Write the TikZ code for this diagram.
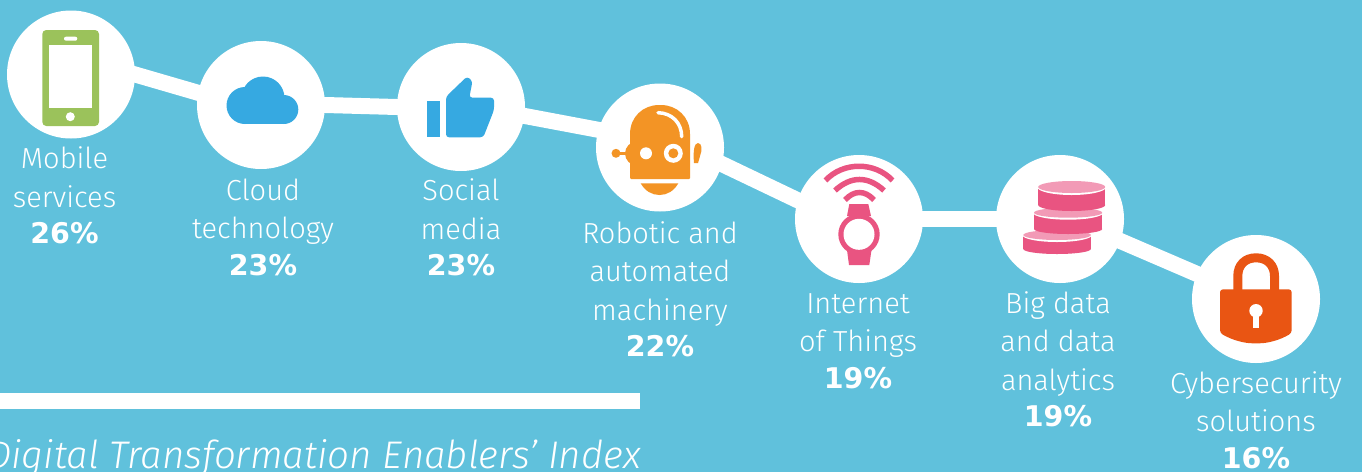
\documentclass[tikz,border=0pt]{standalone}
\usepackage{fontspec}
\setmainfont{Fira Sans Light}[ItalicFont=Fira Sans Light Italic]
\newfontfamily\pctfont{DejaVu Sans Bold}
\usetikzlibrary{backgrounds}
\definecolor{bgblue}{HTML}{60C1DC}
\definecolor{phone}{HTML}{9BC25B}
\definecolor{skyblue}{HTML}{36A9E1}
\definecolor{orangeicon}{HTML}{F39425}
\definecolor{pinkdark}{HTML}{E95481}
\definecolor{pinklight}{HTML}{F29AB6}
\definecolor{lockred}{HTML}{E95513}
\tikzset{
  hub/.style={circle,fill=white,minimum size=128pt,inner sep=0pt},
  link/.style={draw=white,line width=16pt,shorten <=-5pt,shorten >=-5pt},
  lab/.style={text=white,align=center,anchor=north,inner sep=0pt,
    font=\fontsize{29}{38.5}\selectfont},
  wave/.style={draw=pinkdark,line width=5.5pt},
}
\newcommand{\pct}[1]{\raisebox{1.6pt}{\pctfont\fontsize{28.5}{38.5}\selectfont #1}}
\newcommand{\disc}[5]{% cx, top y, bottom y, rx, ry
  \fill[pinkdark] (#1-#4,#2) rectangle (#1+#4,#3);
  \fill[pinkdark] (#1,#3) ellipse [x radius=#4,y radius=#5];
  \fill[white] (#1,#2) ellipse [x radius=#4+1,y radius=#5+2];
  \fill[pinklight] (#1,#2) ellipse [x radius=#4,y radius=#5];
}
\begin{document}
\begin{tikzpicture}[x=1pt,y=-1pt]
\useasboundingbox (0,0) rectangle (1362,472);
\clip (0,0) rectangle (1362,472);
% hubs
\node[hub] (c1) at (71,74.5) {};
\node[hub] (c2) at (261,105) {};
\node[hub] (c3) at (461,107) {};
\node[hub] (c4) at (660,147.5) {};
\node[hub] (c5) at (859,219) {};
\node[hub] (c6) at (1060,219) {};
\node[hub] (c7) at (1256,299) {};
\begin{pgfonlayer}{background}
\fill[bgblue] (0,0) rectangle (1362,472);
\draw[link] (c1.east) -- (c2.169);
\draw[link] (c2.east) -- (c3.west);
\draw[link] (c3.-8) -- (c4.164);
\draw[link] (c4.-15) -- (c5.163);
\draw[link] (c5.east) -- (c6.west);
\draw[link] (c6.-20) -- (c7.157);
\end{pgfonlayer}
% phone
\fill[phone,rounded corners=4pt] (42.3,30) rectangle (99,126);
\fill[white] (49.3,45) rectangle (91.7,107.7);
\fill[white,rounded corners=2pt] (64,36.7) rectangle (77.3,40.7);
\fill[white] (70.3,116.7) circle (4.5);
% cloud
\fill[skyblue] (263,98) circle (21.5);
\fill[skyblue] (245,105.5) circle (18.5);
\fill[skyblue] (283.8,109.5) circle (14.5);
\fill[skyblue] (245,105) rectangle (284,124);
% thumb
\fill[skyblue] (427.3,100.7) rectangle (440,137.3);
\fill[skyblue,rounded corners=3pt] (446,137.3) -- (446,96.7) -- (467,76.5) -- (472.5,81) -- (469.3,97.7) -- (494,97.7) -- (494,110) -- (483.3,137.3) -- cycle;
% robot
\fill[orangeicon,rounded corners=1pt] (630,179) -- (630,135) .. controls (630,117) and (643,105) .. (660,105) .. controls (677,105) and (690,117) .. (690,135) -- (690,179) -- cycle;
\fill[orangeicon] (637,153.5) circle (12);
\fill[orangeicon] (616,153.3) circle (4.5);
\draw[orangeicon,line width=2.5pt] (616,153.3) -- (628,153.3);
\fill[white] (646,153.3) circle (6);
\fill[white] (673.3,153.3) circle (9.5);
\fill[orangeicon] (673.3,153.3) circle (5);
\draw[white,line width=3.5pt,line cap=round] (658,112.7) .. controls (672,113) and (681.7,123) .. (681.7,136.7);
\fill[orangeicon] (694,163) .. controls (693,152) and (694,143) .. (698,143) .. controls (702,143) and (702.5,150) .. (700,156) .. controls (699,159) and (699,161) .. (698,163) -- cycle;
\fill[orangeicon] (640.7,183.3) -- (678.3,183.3) .. controls (674,191) and (667,195) .. (659.5,195) .. controls (652,195) and (645,191) .. (640.7,183.3) -- cycle;
% watch
\fill[pinkdark] (849.3,204) -- (868.3,204) -- (871,216) -- (847,216) -- cycle;
\fill[pinkdark] (847,250) -- (871.5,250) -- (869.3,265) -- (849,265) -- cycle;
\fill[pinkdark] (859,234.3) circle (20.7);
\fill[white] (859,234.3) circle (15.5);
\draw[wave] (825.5,180.5) .. controls (843,161.5) and (875,161.5) .. (892.5,180.5);
\draw[wave] (835,190.5) .. controls (851,175.8) and (868,175.8) .. (884,190.5);
\draw[wave] (845,200) .. controls (854,190) and (865,190) .. (874,200);
% data
\disc{1057.1}{235}{249}{33.8}{5}
\disc{1068.1}{212.7}{229}{34.1}{5}
\disc{1071.7}{187}{205}{33.5}{6}
% lock
\draw[lockred,line width=9pt] (1237.8,292) -- (1237.8,276) .. controls (1237.8,265) and (1245,257.8) .. (1256.1,257.8) .. controls (1267,257.8) and (1274.5,265) .. (1274.5,276) -- (1274.5,292);
\fill[lockred,rounded corners=3pt] (1220,289.3) -- (1291.7,289.3) -- (1291.7,333) .. controls (1280,340) and (1268,343.3) .. (1256,343.3) .. controls (1244,343.3) and (1232,340) .. (1220,333) -- cycle;
\fill[white] (1256,310.7) circle (6.7);
\fill[white] (1253.3,312) rectangle (1258.7,328.3);
% labels
\node[lab] (t1) at (64.5,146.5) {Mobile\\services\\\pct{26\%}};
\node[lab] (t2) at (263,178.5) {Cloud\\technology\\\pct{23\%}};
\node[lab] (t3) at (461,178.5) {Social\\media\\\pct{23\%}};
\node[lab] (t4) at (660,221) {Robotic and\\automated\\machinery\\\pct{22\%}};
\node[lab] (t5) at (858,293) {Internet\\of Things\\\pct{19\%}};
\node[lab] (t6) at (1058,291) {Big data\\and data\\analytics\\\pct{19\%}};
\node[lab] (t7) at (1256,371) {Cybersecurity\\solutions\\\pct{16\%}};
% rule and caption
\fill[white] (0,393) rectangle (640,409);
\node[text=white,anchor=base east,inner sep=0pt,font=\fontsize{38.5}{40}\selectfont\itshape] (cap) at (641,468) {Digital Transformation Enablers’ Index};
\end{tikzpicture}
\end{document}
